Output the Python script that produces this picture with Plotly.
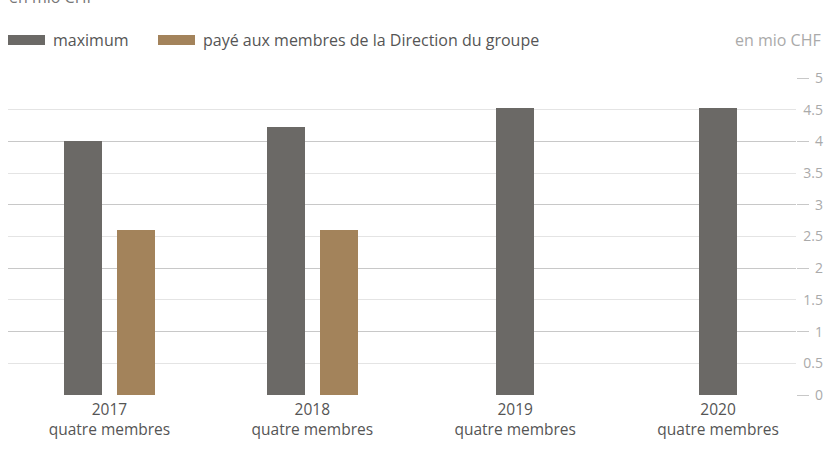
import plotly.graph_objects as go

years = ["2017", "2018", "2019", "2020"]
members = ["quatre membres", "quatre membres", "quatre membres", "quatre membres"]
maximum = [4.0, 4.22, 4.52, 4.52]
paid = [2.6, 2.6, None, None]
y_ticks = [0, 0.5, 1, 1.5, 2, 2.5, 3, 3.5, 4, 4.5, 5]
y_labels = ["0", "0.5", "1", "1.5", "2", "2.5", "3", "3.5", "4", "4.5", "5"]

series_names = ["maximum", "payé aux membres de la Direction du groupe"]
colors = ["#6b6966", "#a3835b"]

cats = [f"{y}<br>{m}" for y, m in zip(years, members)]
cat_idx = list(range(len(cats)))

W, H = 825, 454
ML, MR, MT, MB = 8, 2, 78, 59
PW = W - ML - MR
PH = H - MT - MB
plot_right = 796
xdom = (plot_right - ML) / PW

BW = 0.1875
GAP = 0.131
FONT = "Open Sans"


def px_x(p):
    return (p - ML) / PW


def px_y(p):
    return 1 - (p - MT) / PH


max_offsets = [(-GAP - BW / 2) if p is not None else -BW / 2 for p in paid]
paid_offsets = [GAP - BW / 2 for _ in paid]

fig = go.Figure()
fig.add_trace(go.Bar(x=cat_idx, y=maximum, width=BW, offset=max_offsets,
                     marker=dict(color=colors[0], line=dict(width=0)),
                     showlegend=False, name=series_names[0]))
fig.add_trace(go.Bar(x=cat_idx, y=paid, width=BW, offset=paid_offsets,
                     marker=dict(color=colors[1], line=dict(width=0)),
                     showlegend=False, name=series_names[1]))
# helper traces for overlay axes
fig.add_trace(go.Scatter(x=[None], y=[None], yaxis="y2", showlegend=False, hoverinfo="skip"))
fig.add_trace(go.Scatter(x=[None], y=[None], yaxis="y3", showlegend=False, hoverinfo="skip"))

# manual legend
legend_starts = [8, 158]
shapes = []
annotations = []
for start, n, c in zip(legend_starts, series_names, colors):
    shapes.append(dict(type="rect", xref="paper", yref="paper",
                       x0=px_x(start), x1=px_x(start + 37),
                       y0=px_y(45), y1=px_y(35),
                       fillcolor=c, line=dict(width=0), layer="above"))
    annotations.append(dict(text=n, xref="paper", yref="paper",
                            x=px_x(start + 43), y=px_y(40),
                            xanchor="left", yanchor="middle", showarrow=False,
                            font=dict(size=16, color="#555555")))

annotations += [
    dict(text="en mio CHF", xref="paper", yref="paper", x=1.0, y=px_y(40),
         xanchor="right", yanchor="middle", showarrow=False,
         font=dict(size=16, color="#aaaaaa")),
    dict(text="en mio CHF", xref="paper", yref="paper", x=0, y=px_y(10),
         xanchor="left", yanchor="bottom", showarrow=False, xshift=-1,
         font=dict(size=16, color="#777777")),
]

fig.update_layout(
    width=W, height=H,
    margin=dict(l=ML, r=MR, t=MT, b=MB),
    paper_bgcolor="white", plot_bgcolor="white",
    font=dict(family=FONT, size=14, color="#555555"),
    bargap=0,
    showlegend=False,
    xaxis=dict(domain=[0, xdom], range=[-0.5, 3.384], tickmode="array",
               tickvals=cat_idx, ticktext=cats, showgrid=False, zeroline=False,
               showline=False, ticks="", tickfont=dict(size=15.5, color="#555555"),
               ticklabelstandoff=3, fixedrange=True),
    yaxis=dict(range=[0, 5], tickmode="array", tickvals=y_ticks, side="right",
               showticklabels=False, gridcolor="#e4e4e4", gridwidth=1,
               zeroline=False, showline=False, ticks="", fixedrange=True),
    yaxis2=dict(range=[0, 5], dtick=1, overlaying="y", side="right", anchor="x",
                showticklabels=False, gridcolor="#c8c8c8", gridwidth=1,
                zeroline=False, showline=False, ticks="outside", ticklen=12,
                tickcolor="#c8c8c8", tickwidth=1, fixedrange=True),
    yaxis3=dict(range=[0, 5], tickmode="array", tickvals=y_ticks, ticktext=y_labels,
                overlaying="y", anchor="free", position=1.0, side="left",
                showgrid=False, zeroline=False, showline=False, ticks="",
                tickfont=dict(size=14, color="#aaaaaa"), fixedrange=True),
    shapes=shapes,
    annotations=annotations,
)

fig.write_html("out.html", post_script="document.body.style.margin='0';",
               config={"displayModeBar": False})
